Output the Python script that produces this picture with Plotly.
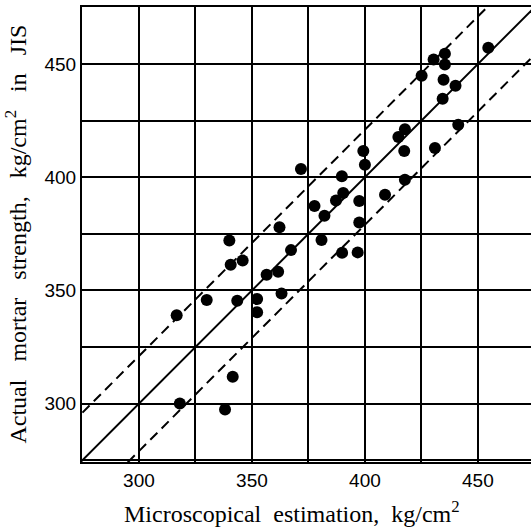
import plotly.graph_objects as go

# Microscopical estimation (x) vs actual mortar strength (y), kg/cm2
micro_est = [316.7, 330.0, 343.5, 352.3, 352.3, 341.5, 318.1, 338.1, 340.0, 362.2,
             340.6, 345.9, 367.3, 377.7, 380.8, 356.5, 361.6, 363.1, 371.7, 389.8,
             390.4, 387.2, 397.5, 408.9, 382.1, 397.5, 389.9, 396.8, 399.3, 400.0,
             417.7, 417.7, 414.8, 417.4, 431.0, 441.3, 434.4, 440.1, 434.8, 425.1,
             435.4, 430.4, 435.4, 454.6]
actual_str = [339.0, 345.8, 345.4, 346.2, 340.4, 311.9, 300.0, 297.4, 372.1, 377.9,
              361.3, 363.2, 367.8, 387.3, 372.3, 356.9, 358.2, 348.6, 403.6, 400.4,
              393.0, 389.7, 389.5, 392.3, 383.0, 380.0, 366.6, 366.8, 411.6, 405.5,
              398.9, 421.2, 417.8, 411.6, 412.9, 423.2, 434.7, 440.4, 443.1, 444.8,
              449.8, 452.0, 454.6, 457.2]

line_x = [250, 500]          # extent of the reference lines
band_offsets = [21, -21]     # dashed band around the 1:1 line
x_ticks = [300, 350, 400, 450]
y_ticks = [300, 350, 400, 450]
x_minor = [275, 325, 375, 425]
y_minor = [275, 325, 375, 425, 475]
x_title = "Microscopical  estimation,  kg/cm<sup>2</sup>"
y_title = "Actual   mortar   strength,   kg/cm<sup>2</sup>   in   JIS"

fig = go.Figure()

fig.add_trace(go.Scatter(x=line_x, y=line_x, mode="lines",
                         line=dict(color="black", width=2), showlegend=False))
for off in band_offsets:
    fig.add_trace(go.Scatter(x=line_x, y=[v + off for v in line_x], mode="lines",
                             line=dict(color="black", width=2, dash="10px,6px"),
                             showlegend=False))

fig.add_trace(go.Scatter(x=micro_est, y=actual_str, mode="markers",
                         marker=dict(color="black", size=12),
                         showlegend=False))

axis_common = dict(
    showgrid=True, gridcolor="black", gridwidth=2,
    showline=True, linecolor="black", linewidth=2,
    zeroline=False, ticks="",
    tickfont=dict(family="Liberation Sans", size=19, color="black"),
)

title_font = dict(family="Liberation Serif", size=24, color="black")

fig.update_layout(
    width=531, height=530,
    margin=dict(l=82, r=0, t=7, b=68),
    paper_bgcolor="white", plot_bgcolor="white",
    xaxis=dict(range=[274.8, 473.5], tickvals=x_ticks, mirror=True,
               minor=dict(showgrid=True, gridcolor="black", gridwidth=2, tickvals=x_minor),
               **axis_common),
    yaxis=dict(range=[274.2, 475.2], tickvals=y_ticks,
               minor=dict(showgrid=True, gridcolor="black", gridwidth=2, tickvals=y_minor),
               **axis_common),
    annotations=[
        dict(text=x_title, xref="paper", yref="paper", x=0.4666, y=-0.110,
             xanchor="center", yanchor="middle", showarrow=False, font=title_font),
        dict(text=y_title, xref="paper", yref="paper", x=-0.147, y=0.502,
             xanchor="center", yanchor="middle", showarrow=False, textangle=-90,
             font=title_font),
    ],
)

fig.write_html("out.html", config={"displayModeBar": False},
               post_script="document.body.style.margin='0';")
